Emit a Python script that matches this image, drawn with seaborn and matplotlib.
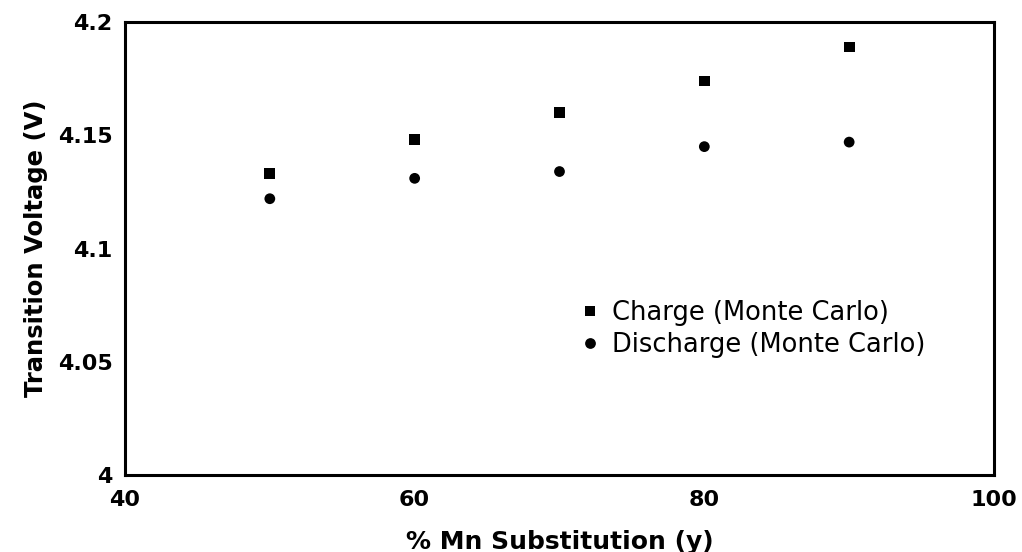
import matplotlib
matplotlib.use("Agg")
import matplotlib.pyplot as plt
import seaborn as sns
import pandas as pd

# Mn substitution levels (%) and transition voltages (V)
mn_pct = [50, 60, 70, 80, 90]
charge_v = [4.133, 4.148, 4.160, 4.174, 4.189]
discharge_v = [4.122, 4.131, 4.134, 4.145, 4.147]
series_names = ["Charge (Monte Carlo)", "Discharge (Monte Carlo)"]

x_ticks = [40, 60, 80, 100]
y_ticks = [4.0, 4.05, 4.1, 4.15, 4.2]
y_tick_labels = ["4", "4.05", "4.1", "4.15", "4.2"]

df = pd.DataFrame({
    "mn": mn_pct * 2,
    "voltage": charge_v + discharge_v,
    "series": [series_names[0]] * len(mn_pct) + [series_names[1]] * len(mn_pct),
})

sns.set_style("white")
plt.rcParams["font.family"] = ["DejaVu Sans"]
plt.rcParams["text.color"] = "black"
plt.rcParams["axes.labelcolor"] = "black"
plt.rcParams["xtick.color"] = "black"
plt.rcParams["ytick.color"] = "black"

fig = plt.figure(figsize=(10.22, 5.52), dpi=100)
ax = fig.add_axes([0.1223, 0.1395, 0.8503, 0.8205])

sns.scatterplot(
    data=df, x="mn", y="voltage", style="series", hue="series",
    markers={series_names[0]: "s", series_names[1]: "o"},
    palette={series_names[0]: "black", series_names[1]: "black"},
    s=60, edgecolor="black", linewidth=0, ax=ax,
)

ax.set_xlim(40, 100)
ax.set_ylim(4.0, 4.2)
ax.set_xticks(x_ticks)
ax.set_xticklabels([str(t) for t in x_ticks], fontsize=16, fontweight="bold")
ax.set_yticks(y_ticks)
ax.set_yticklabels(y_tick_labels, fontsize=16, fontweight="bold")
ax.tick_params(axis="both", direction="inout", length=4, width=1.5, colors="black")
ax.tick_params(axis="x", pad=9)
ax.tick_params(axis="y", pad=7)

ax.set_xlabel("% Mn Substitution (y)", fontsize=18, fontweight="bold", labelpad=14)
ax.set_ylabel("Transition Voltage (V)", fontsize=17.5, fontweight="bold", labelpad=7)

for sp in ax.spines.values():
    sp.set_visible(True)
    sp.set_color("black")
    sp.set_linewidth(2.2)

handles, labels = ax.get_legend_handles_labels()
ax.legend(handles, labels, loc="center left", bbox_to_anchor=(0.520, 0.322),
          frameon=False, fontsize=18.5, handlelength=1.0, handletextpad=0.35,
          labelspacing=0.25, markerscale=1.0, borderaxespad=0, borderpad=0)

fig.savefig("out.png", dpi=100, facecolor="white")
